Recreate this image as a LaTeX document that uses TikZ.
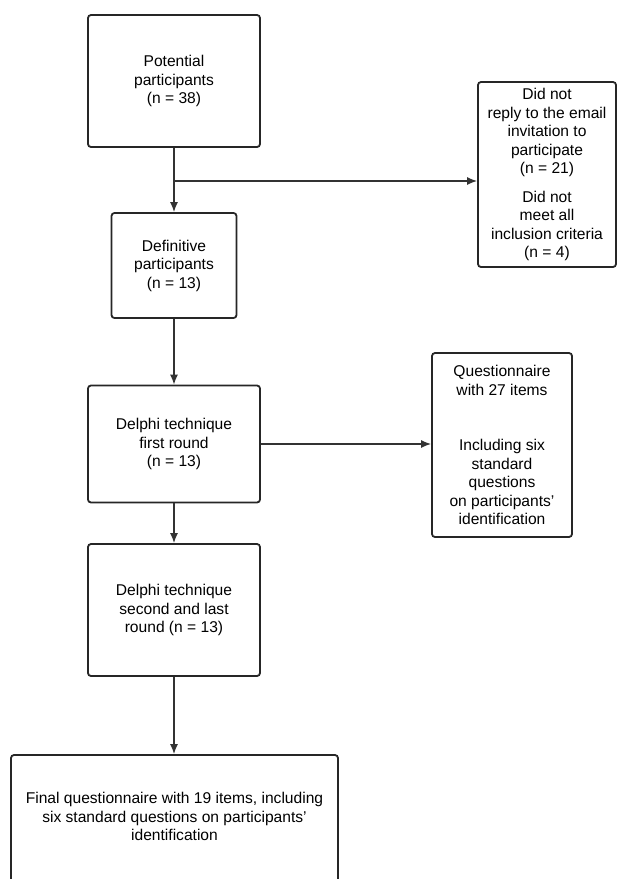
\documentclass[tikz,border=0pt]{standalone}
\usepackage{fontspec}
\setmainfont{Liberation Sans}
\usepackage{tikz}
\usetikzlibrary{arrows.meta}

\tikzset{
  stagebox/.style={draw=black!85, line width=1.8pt, rounded corners=3pt, align=center,
    inner sep=0pt, font=\fontsize{15.6}{18.5}\selectfont},
  flow/.style={draw=black!80, line width=1.4pt, -{Latex[length=10pt,width=8pt]}}
}

\begin{document}
\begin{tikzpicture}[x=1pt, y=-1pt]
	\path[use as bounding box, clip] (0,0) rectangle (617,879);
	\node[stagebox, minimum width=172pt, minimum height=132pt] (s1) at (174, 81) {Potential\\participants\\(n = 38)};
	\node[stagebox, minimum width=138pt, minimum height=185pt] (s2) at (547, 174.5) {Did not\\reply to the email\\invitation to\\participate\\(n = 21)\\[10pt]Did not\\meet all\\inclusion criteria\\(n = 4)};
	\node[stagebox, minimum width=125pt, minimum height=105pt] (s3) at (174, 265.5) {Definitive\\participants\\(n = 13)};
	\node[stagebox, minimum width=172pt, minimum height=117pt] (s4) at (174, 444) {Delphi technique\\first round\\(n = 13)};
	\node[stagebox, minimum width=140pt, minimum height=184pt] (s5) at (502, 445) {Questionnaire\\with 27 items\\[37pt]Including six\\standard\\questions\\on participants'\\identification};
	\node[stagebox, minimum width=172pt, minimum height=132pt] (s6) at (174, 610) {Delphi technique\\second and last\\round (n = 13)};
	\node[stagebox, minimum width=327pt, minimum height=140pt] (s7) at (174.5, 825) {Final questionnaire with 19 items, including\\six standard questions on participants'\\identification\\[-2pt]};
	\coordinate (j1) at (174, 181);
	\draw[flow] (s1.south) -- (s1.south |- s3.north);
	\draw[flow] (j1) -- (j1 -| s2.west);
	\draw[flow] (s3.south) -- (s3.south |- s4.north);
	\draw[flow] (s4.east) -- (s4.east -| s5.west);
	\draw[flow] (s4.south) -- (s4.south |- s6.north);
	\draw[flow] (s6.south) -- (s6.south |- s7.north);
\end{tikzpicture}
\end{document}
